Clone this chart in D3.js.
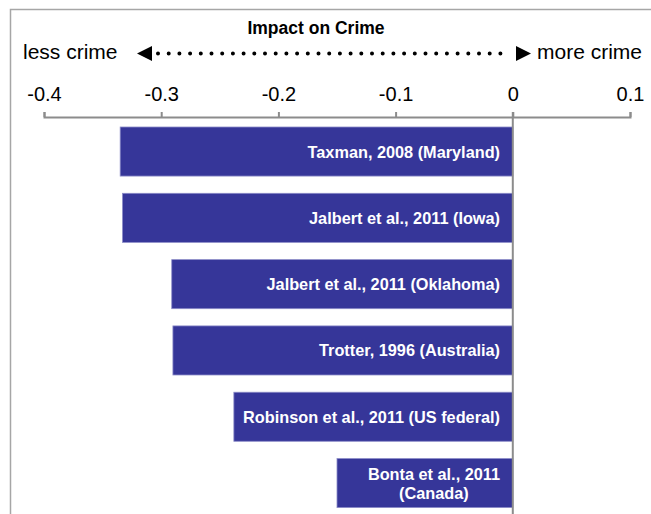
<!DOCTYPE html>
<html><head><meta charset="utf-8">
<script src="https://cdn.jsdelivr.net/npm/d3@7"></script>
<style>body{margin:0;background:#fff}svg{display:block;font-family:Arial,"Liberation Sans",sans-serif}</style>
</head><body>
<svg id="c" width="651" height="514"></svg>
<script>
const studies = ["Taxman, 2008 (Maryland)","Jalbert et al., 2011 (Iowa)","Jalbert et al., 2011 (Oklahoma)","Trotter, 1996 (Australia)","Robinson et al., 2011 (US federal)","Bonta et al., 2011|(Canada)"];
const effects = [-0.335,-0.333,-0.291,-0.290,-0.238,-0.150];
const tickValues = [-0.4,-0.3,-0.2,-0.1,0,0.1];
const tickLabels = ["-0.4","-0.3","-0.2","-0.1","0","0.1"];

const svg = d3.select("#c");
// frame
svg.append("path").attr("d","M10.5,520 V9.5 H660").attr("fill","none").attr("stroke","#a6a6a6").attr("stroke-width",1.5);

const x = d3.scaleLinear().domain([-0.4,0.1]).range([44,630]);
const y = d3.scaleBand().domain(studies).range([127,507.6]).paddingInner(0.26).paddingOuter(0);

svg.append("text").attr("x",316).attr("y",34).attr("text-anchor","middle").attr("font-weight","bold").attr("font-size",17.5).text("Impact on Crime");
svg.append("text").attr("x",23).attr("y",58.5).attr("font-size",21).text("less crime");
svg.append("text").attr("x",537).attr("y",58.5).attr("font-size",21).text("more crime");
// arrow
const ay = 53.5;
svg.append("line").attr("x1",158).attr("x2",511).attr("y1",ay).attr("y2",ay).attr("stroke","#000").attr("stroke-width",4).attr("stroke-linecap","round").attr("stroke-dasharray","0 10.7");
svg.append("path").attr("d",`M137,${ay} L152,${ay-7.5} L152,${ay+7.5} Z`).attr("fill","#000");
svg.append("path").attr("d",`M531,${ay} L516,${ay-7.5} L516,${ay+7.5} Z`).attr("fill","#000");

// bars
svg.selectAll("rect.bar").data(studies).enter().append("rect").attr("class","bar")
  .attr("x",(d,i)=>x(effects[i])).attr("y",d=>y(d))
  .attr("width",(d,i)=>x(0)-x(effects[i])).attr("height",y.bandwidth())
  .attr("fill","#363699").attr("stroke","#8c8cc8").attr("stroke-width",0.8);

svg.selectAll("text.lab").data(studies).enter().append("text").attr("class","lab")
  .attr("fill","#fff").attr("font-weight","bold").attr("font-size",16.3)
  .each(function(d){
    const lines = d.split("|");
    const t = d3.select(this);
    const cy = y(d)+y.bandwidth()/2;
    if (lines.length === 1) {
      t.attr("text-anchor","end").append("tspan").attr("x",500).attr("y",cy+6).text(lines[0]);
    } else {
      t.attr("text-anchor","middle");
      const s1 = t.append("tspan").attr("y",cy-3).text(lines[0]);
      const w = s1.node().getComputedTextLength();
      const cx = 500 - w/2;
      s1.attr("x",cx);
      t.append("tspan").attr("x",cx).attr("y",cy+15.5).text(lines[1]);
    }
  });

// axis
const ax = svg.append("g").attr("transform","translate(0,117)")
  .call(d3.axisTop(x).tickValues(tickValues).tickFormat((d,i)=>tickLabels[i]).tickSizeInner(5).tickSizeOuter(5).tickPadding(11));
ax.select(".domain").attr("stroke","#8c8c8c").attr("stroke-width",2);
ax.selectAll(".tick line").attr("stroke","#8c8c8c").attr("stroke-width",2);
ax.selectAll(".tick text").attr("font-size",20).attr("font-family","Arial, 'Liberation Sans', sans-serif").attr("fill","#000");

// zero line
svg.append("line").attr("x1",x(0)).attr("x2",x(0)).attr("y1",112).attr("y2",514).attr("stroke","#8c8c8c").attr("stroke-width",2);
</script>
</body></html>
